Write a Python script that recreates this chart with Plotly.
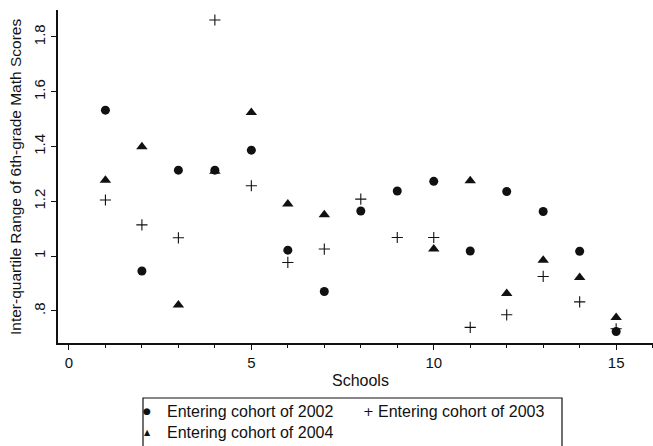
import plotly.graph_objects as go

# Inter-quartile range of 6th-grade math scores by school and entering cohort
schools = list(range(1, 16))
cohort_2002 = [1.533, 0.946, 1.314, 1.314, 1.387, 1.022, 0.871, 1.165, 1.238, 1.273,
               1.019, 1.236, 1.163, 1.018, 0.725]
cohort_2003 = [1.205, 1.114, 1.067, 1.862, 1.257, 0.977, 1.026, 1.208, 1.068, 1.068,
               0.740, 0.786, 0.926, 0.833, 0.735]
cohort_2004 = [1.277, 1.399, 0.822, 1.310, 1.524, 1.190, 1.151, None, None, 1.026,
               1.275, 0.864, 0.985, 0.922, 0.776]

y_tick_vals = [0.8, 1.0, 1.2, 1.4, 1.6, 1.8]
y_tick_text = [".8", "1", "1.2", "1.4", "1.6", "1.8"]
x_tick_vals = [0, 5, 10, 15]

legend_labels = ["Entering cohort of 2002", "Entering cohort of 2003", "Entering cohort of 2004"]

W, H = 653, 446
FONT = "Liberation Sans, Arial, sans-serif"
INK = "#111111"

fig = go.Figure()
fig.add_trace(go.Scatter(x=schools, y=cohort_2002, mode="markers", name=legend_labels[0],
                         marker=dict(symbol="circle", size=9, color=INK)))
fig.add_trace(go.Scatter(x=schools, y=cohort_2003, mode="markers", name=legend_labels[1],
                         marker=dict(symbol="cross-thin", size=8,
                                     line=dict(width=1.1, color=INK))))
fig.add_trace(go.Scatter(x=schools, y=cohort_2004, mode="markers", name=legend_labels[2],
                         marker=dict(symbol="triangle-up", size=10, color=INK)))

def px(x):
    return x / W

def py(y):
    return 1 - y / H

axis_common = dict(showgrid=False, zeroline=False, showline=True, linecolor=INK,
                   linewidth=1.5, ticks="outside", tickcolor=INK, tickwidth=1.2,
                   tickfont=dict(family=FONT, size=15, color=INK))

fig.update_xaxes(domain=[px(58), 1.0], range=[-0.30, 16.01], tickvals=x_tick_vals,
                 ticklen=5, minor=dict(dtick=1, ticks="outside", ticklen=3,
                                       tickcolor=INK, tickwidth=1),
                 **axis_common)
fig.update_yaxes(domain=[py(343), py(10)], range=[0.683, 1.8985], tickvals=y_tick_vals,
                 ticktext=y_tick_text, tickangle=-90, ticklen=5, **axis_common)

annotations = [
    dict(text="Schools", x=px(360), y=py(380), xref="paper", yref="paper",
         xanchor="center", yanchor="middle", showarrow=False,
         font=dict(family=FONT, size=16, color=INK)),
    dict(text="Inter-quartile Range of 6th-grade Math Scores", x=px(16), y=py(177),
         xref="paper", yref="paper", xanchor="center", yanchor="middle",
         textangle=-90, showarrow=False,
         font=dict(family=FONT, size=15.5, color=INK)),
]

# legend box drawn below the plot area
legend_rows = [
    ("\u25cf", 147, 165, 411, legend_labels[0], 9),
    ("+", 368, 376, 411, legend_labels[1], 13),
    ("\u25b2", 147, 165, 432, legend_labels[2], 8),
]
for sym, sx, tx, ty, label, ssize in legend_rows:
    annotations.append(dict(text=sym, x=px(sx), y=py(ty), xref="paper", yref="paper",
                            xanchor="center", yanchor="middle", showarrow=False,
                            font=dict(family="DejaVu Sans", size=ssize, color=INK)))
    annotations.append(dict(text=label, x=px(tx), y=py(ty), xref="paper", yref="paper",
                            xanchor="left", yanchor="middle", showarrow=False,
                            font=dict(family=FONT, size=16, color=INK)))

fig.add_shape(type="rect", xref="paper", yref="paper",
              x0=px(143), x1=px(562), y0=py(470), y1=py(398),
              line=dict(color=INK, width=1.2))

fig.update_layout(width=W, height=H, margin=dict(l=0, r=0, t=0, b=0),
                  plot_bgcolor="white", paper_bgcolor="white", showlegend=False,
                  annotations=annotations, font=dict(family=FONT, color=INK))

fig.write_html("out.html")
